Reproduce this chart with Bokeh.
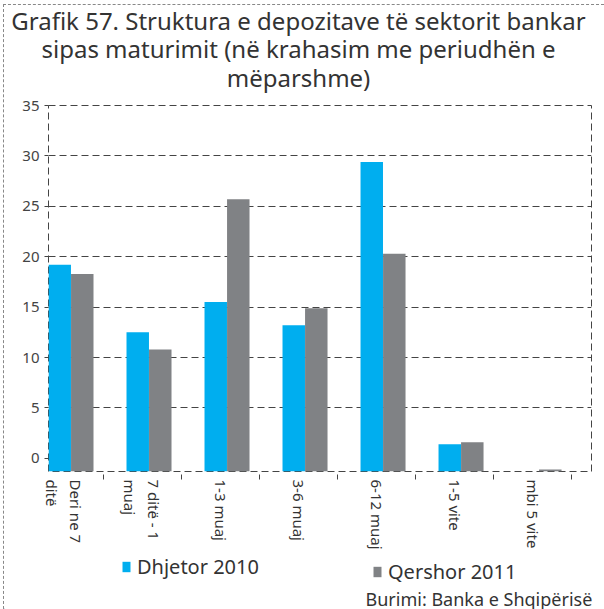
import math
import numpy as np
from bokeh.plotting import figure
from bokeh.layouts import column
from bokeh.models import (ColumnDataSource, Range1d, FixedTicker, Legend, LegendItem, Label)
from bokeh.embed import file_html
from bokeh.resources import INLINE

# ---- data ----
categories = ["Deri ne 7\nditë", "7 ditë - 1\nmuaj", "1-3 muaj", "3-6 muaj",
              "6-12 muaj", "1-5 vite", "mbi 5 vite"]
dhjetor_2010 = [19.2, 12.5, 15.5, 13.2, 29.4, 1.4, np.nan]
qershor_2011 = [18.3, 10.8, 25.7, 14.9, 20.3, 1.6, -1.1]
y_ticks = [0, 5, 10, 15, 20, 25, 30, 35]
title_lines = ["Grafik 57. Struktura e depozitave të sektorit bankar",
               "sipas maturimit (në krahasim me periudhën e",
               "mëparshme)"]
source_text = "Burimi: Banka e Shqipërisë"
series_names = ["Dhjetor 2010", "Qershor 2011"]

FONT = "Noto Sans"
TXT = "#333333"
BLUE = "#00AEEF"
GREY = "#808285"
Y0 = -1.3
W = 600


def strip(height):
    f = figure(width=W, height=height, output_backend="svg", toolbar_location=None,
               x_range=Range1d(0, W), y_range=Range1d(0, height),
               x_axis_type=None, y_axis_type=None,
               min_border_left=0, min_border_right=0, min_border_top=0,
               min_border_bottom=0)
    f.frame_align = False
    f.outline_line_color = None
    f.xgrid.visible = False
    f.ygrid.visible = False
    return f


# ---- title strip ----
p0 = strip(90)
for line, y in zip(title_lines, [75, 47, 18]):
    p0.add_layout(Label(x=294, y=y, x_units="screen", y_units="screen", text=line,
                        text_align="center", text_baseline="alphabetic",
                        text_font=FONT, text_font_size="24px", text_color=TXT))

# ---- main chart ----
idx = np.arange(len(categories))
src = ColumnDataSource(dict(
    xb=idx - 0.061, xg=idx + 0.228,
    b=np.array(dhjetor_2010, dtype=float),
    g=np.array(qershor_2011, dtype=float),
))

p = figure(width=W, height=458, output_backend="svg", toolbar_location=None,
           title=None,
           x_range=Range1d(-0.205, 6.756), y_range=Range1d(Y0, 35),
           min_border_left=44, min_border_right=13, min_border_top=10,
           min_border_bottom=82)
p.frame_align = False

p.vbar(x="xb", top="b", bottom=Y0, width=0.288, source=src,
       fill_color=BLUE, line_color=None)
p.vbar(x="xg", top="g", bottom=Y0, width=0.288, source=src,
       fill_color=GREY, line_color=None)

p.outline_line_color = "#444444"
p.outline_line_dash = "7 4"
p.outline_line_width = 1
p.xgrid.visible = False
p.ygrid.ticker = FixedTicker(ticks=y_ticks[1:])
p.ygrid.grid_line_color = "#444444"
p.ygrid.grid_line_dash = "7 4"
p.ygrid.grid_line_width = 1

p.yaxis.ticker = FixedTicker(ticks=y_ticks)
p.yaxis.axis_line_color = None
p.yaxis.major_tick_out = 4
p.yaxis.major_tick_in = 0
p.yaxis.major_tick_line_color = "#444444"
p.yaxis.minor_tick_line_color = None
p.yaxis.major_label_standoff = 5
p.yaxis.major_label_text_font = FONT
p.yaxis.major_label_text_font_size = "15px"
p.yaxis.major_label_text_color = "#444444"

p.xaxis.ticker = FixedTicker(ticks=list(idx), minor_ticks=list(idx + 0.5))
p.xaxis.major_label_overrides = {int(i): c for i, c in zip(idx, categories)}
p.xaxis.axis_line_color = None
p.xaxis.major_tick_out = 0
p.xaxis.major_tick_in = 0
p.xaxis.major_tick_line_color = None
p.xaxis.minor_tick_line_color = "#444444"
p.xaxis.minor_tick_in = -3
p.xaxis.minor_tick_out = 8
p.xaxis.major_label_orientation = -math.pi / 2
p.xaxis.major_label_standoff = 0
p.xaxis.major_label_text_font = FONT
p.xaxis.major_label_text_font_size = "15px"
p.xaxis.major_label_text_color = TXT

# ---- legend + source strip ----
p2 = strip(56)
# legend key proxies (kept outside the visible range)
kb = p2.vbar(x=[-1000], top=[1], width=1, fill_color=BLUE, line_color=None)
kg = p2.vbar(x=[-1000], top=[1], width=1, fill_color=GREY, line_color=None)


def make_legend(name, r, loc):
    lg = Legend(items=[LegendItem(label=name, renderers=[r])], location=loc,
                orientation="horizontal", padding=0, margin=0, spacing=0,
                glyph_width=10, glyph_height=13, label_standoff=6,
                label_text_font=FONT, label_text_font_size="20px",
                label_text_color=TXT, background_fill_alpha=0,
                border_line_color=None, label_height=13)
    p2.add_layout(lg, "center")


make_legend(series_names[0], kb, (117, 29))
make_legend(series_names[1], kg, (368, 24))

p2.add_layout(Label(x=361, y=11, x_units="screen", y_units="screen", text=source_text,
                    text_align="left", text_baseline="alphabetic",
                    text_font=FONT, text_font_size="18px", text_color=TXT))

layout = column(p0, p, p2, spacing=0)
layout.styles = {"margin-left": "3px", "margin-top": "4px",
                 "border-top": "1px dashed #888888", "border-left": "1px dashed #888888"}

open("out.html", "w").write(file_html(layout, INLINE))
